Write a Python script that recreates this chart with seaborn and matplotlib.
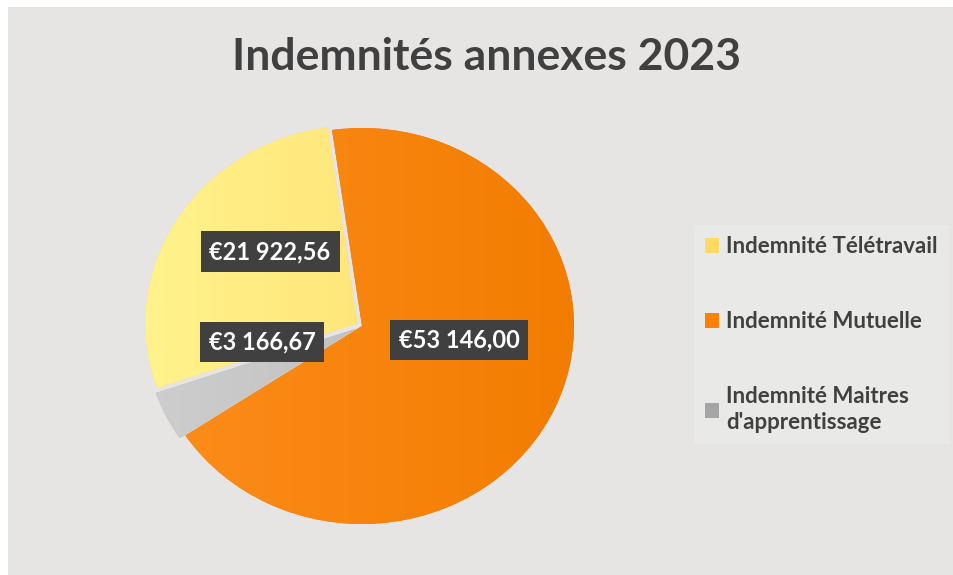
import numpy as np
import matplotlib.pyplot as plt
import seaborn as sns
from matplotlib.patches import Rectangle, Patch
from matplotlib.colors import LinearSegmentedColormap

sns.set_theme(style="white")
plt.rcParams['font.family'] = ['Lato', 'DejaVu Sans']

# données
categories = ["Indemnité Télétravail", "Indemnité Mutuelle", "Indemnité Maitres\nd'apprentissage"]
values = [21922.56, 53146.00, 3166.67]
value_labels = ["€21 922,56", "€53 146,00", "€3 166,67"]
legend_colors = ["#FFD966", "#FF8000", "#A5A5A5"]
# dégradés gauche -> droite
gradients = [("#FFF48E", "#FFD865"), ("#FD8D1C", "#F27C00"), ("#CFCFCF", "#B4B4B4")]

W, H = 954, 575
fig = plt.figure(figsize=(W / 100, H / 100), dpi=100)
fig.patch.set_facecolor("white")
fig.add_artist(Rectangle((8 / W, 0), 1, 1 - 7 / H, transform=fig.transFigure,
                         facecolor="#E6E5E3", edgecolor="none", zorder=-10))

# axe du camembert (légèrement elliptique comme l'original)
cx, cy = 362, 575 - 326
sx, sy = 212, 198
lim = 1.2
ax = fig.add_axes([(cx - lim * sx) / W, (cy - lim * sy) / H, 2 * lim * sx / W, 2 * lim * sy / H])

wedges, _ = ax.pie(values, colors=[g[1] for g in gradients], startangle=199, counterclock=False,
                   explode=[0.025, 0.0, 0.03], radius=1.0,
                   wedgeprops=dict(linewidth=0))
ax.set_aspect("auto")
ax.axis("off")

grad = np.linspace(0, 1, 256).reshape(1, -1)
for w, (c0, c1) in zip(wedges, gradients):
    cmap = LinearSegmentedColormap.from_list("g", [c0, c1])
    im = ax.imshow(grad, cmap=cmap, extent=(-1.1, 1.1, -1.1, 1.1), aspect="auto",
                   zorder=w.get_zorder() + 0.1)
    im.set_clip_path(w)
ax.set_xlim(-lim, lim)
ax.set_ylim(-lim, lim)

# position des étiquettes (angle, distance)
label_pos = [(139.2, 0.573), (-8.8, 0.463), (189.7, 0.479)]
for txt, (ang, dist) in zip(value_labels, label_pos):
    a = np.deg2rad(ang)
    ax.text(dist * np.cos(a), dist * np.sin(a), txt, ha="center", va="center",
            color="white", fontsize=17, fontweight="bold", zorder=10,
            bbox=dict(boxstyle="square,pad=0.38", facecolor="#404040", edgecolor="none"))

fig.text(487 / W, 1 - 57 / H, "Indemnités annexes 2023", ha="center", va="center",
         fontsize=32, fontweight="bold", color="#404040")

handles = [Patch(facecolor=c, edgecolor="none") for c in legend_colors]
leg = fig.legend(handles, categories, loc="upper left", bbox_to_anchor=(701 / W, 1 - 232 / H),
                 frameon=True, fontsize=16, handlelength=0.63, handleheight=0.63,
                 handletextpad=0.3, labelspacing=2.42, borderpad=0.2, borderaxespad=0)
leg.get_frame().set_facecolor("#EBEBEA")
leg.get_frame().set_edgecolor("none")
leg.get_frame().set_boxstyle("square")
for t in leg.get_texts():
    t.set_color("#404040")
    t.set_fontweight("bold")
    t.set_linespacing(1.3)

fig.savefig("out.png", dpi=100, facecolor=fig.get_facecolor())
